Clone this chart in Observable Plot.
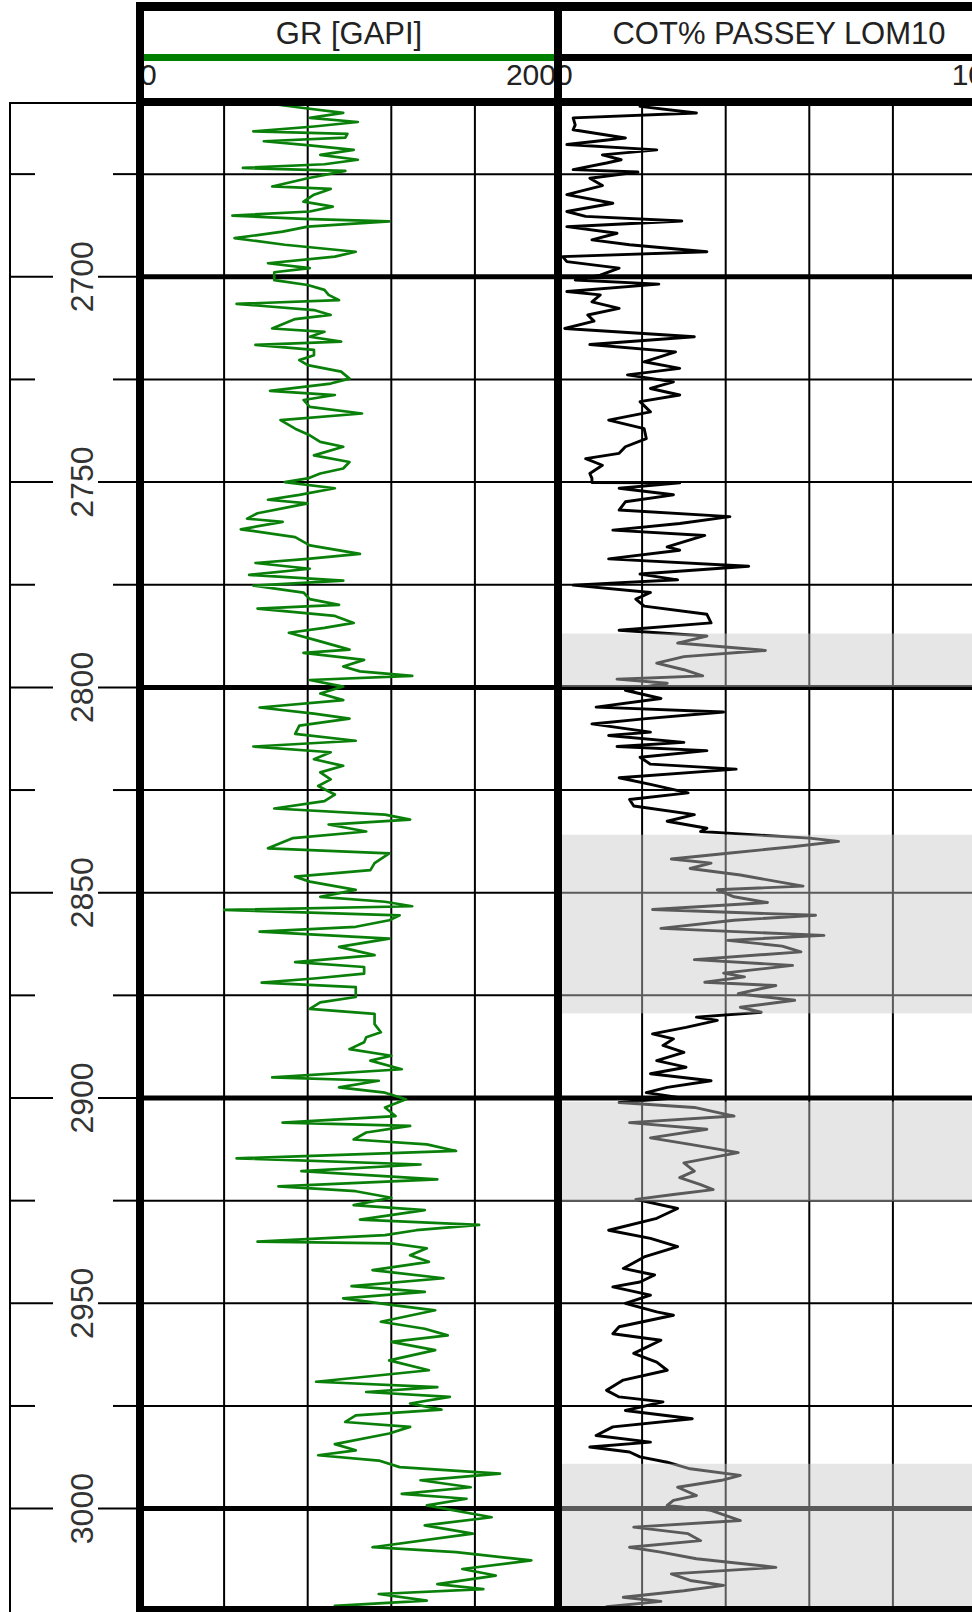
<!DOCTYPE html>
<html><head><meta charset="utf-8">
<script src="https://cdn.jsdelivr.net/npm/d3@7"></script>
<script src="https://cdn.jsdelivr.net/npm/@observablehq/plot@0.6"></script>
<style>
body{margin:0;background:#fff;}
#page{position:relative;width:972px;height:1612px;overflow:hidden;font-family:"Liberation Sans",Arial,sans-serif;color:#222;background:#fff;}
.plot{position:absolute;}
.bar{position:absolute;}
.lbl{position:absolute;line-height:1;white-space:nowrap;}
</style></head>
<body><div id="page"></div>
<script>
// ---------------- data ----------------
const depthDomain = [2657.8, 3025.3];
const depthLabels = [2700, 2750, 2800, 2850, 2900, 2950, 3000];
const depthMinorTicks = [2675, 2725, 2775, 2825, 2875, 2925, 2975];
const depthMajorGrid = [2700, 2800, 2900, 3000];
const depthMinorGrid = [2675, 2725, 2750, 2775, 2825, 2850, 2875, 2925, 2950, 2975];

const grTitle = "GR [GAPI]";
const grTicks = [0, 40, 80, 120, 160, 200];
const cotTitle = "COT% PASSEY LOM10";
const cotTicks = [0, 2, 4, 6, 8, 10];

const grDepth = [2658.1,2658.9,2660.1,2661.3,2662.3,2663.4,2664.6,2665.2,2666.1,2667.0,2668.0,2669.1,2670.3,2671.5,2672.6,2673.5,2674.2,2676.0,2678.0,2678.6,2680.0,2681.7,2682.9,2684.1,2685.1,2685.9,2686.5,2687.8,2689.0,2690.6,2692.2,2693.9,2695.1,2696.7,2697.9,2698.9,2700.8,2702.0,2703.2,2704.4,2705.7,2706.6,2708.1,2709.3,2710.3,2712.6,2713.4,2714.6,2715.8,2716.6,2717.8,2719.1,2720.3,2721.5,2723.1,2724.8,2726.0,2727.8,2728.8,2730.0,2731.7,2733.3,2734.9,2737.0,2738.6,2740.2,2741.4,2743.5,2745.1,2746.7,2747.9,2749.1,2750.0,2751.5,2753.1,2754.3,2755.2,2757.6,2758.9,2759.7,2761.5,2763.4,2765.4,2767.5,2768.7,2769.7,2771.1,2772.6,2774.0,2775.2,2776.9,2778.5,2779.9,2780.8,2782.6,2784.3,2785.5,2786.7,2788.8,2790.8,2791.6,2793.3,2794.9,2796.1,2797.2,2798.2,2799.8,2801.5,2803.1,2804.9,2806.4,2807.6,2809.3,2811.3,2813.0,2814.4,2815.8,2817.5,2819.1,2820.7,2822.4,2824.0,2826.1,2827.7,2829.5,2831.0,2832.2,2833.4,2835.1,2836.7,2839.2,2840.4,2842.8,2844.5,2846.1,2847.3,2849.3,2851.0,2852.2,2853.3,2854.2,2855.5,2856.7,2858.3,2859.5,2861.2,2863.2,2865.2,2866.9,2868.1,2869.7,2870.9,2871.9,2873.0,2875.4,2876.7,2878.3,2879.5,2882.0,2884.0,2885.2,2886.4,2888.1,2889.7,2890.9,2893.0,2895.0,2895.8,2897.4,2898.7,2900.3,2902.3,2904.4,2906.0,2906.8,2908.4,2910.1,2911.3,2912.9,2914.7,2916.2,2917.8,2919.8,2921.5,2922.7,2924.3,2926.1,2927.3,2929.6,2930.9,2932.2,2933.4,2935.0,2935.4,2936.6,2938.3,2939.9,2941.9,2943.9,2945.8,2947.2,2948.8,2950.4,2951.7,2954.5,2956.2,2957.8,2959.4,2961.4,2963.9,2966.3,2969.1,2970.4,2971.6,2972.8,2974.4,2975.9,2977.3,2978.9,2980.1,2981.7,2984.3,2985.8,2987.0,2988.3,2989.9,2991.5,2993.1,2994.8,2996.4,2997.6,2999.2,3002.1,3004.1,3006.1,3009.4,3010.6,3012.6,3014.7,3016.3,3018.4,3019.6,3020.8,3022.4,3023.7,3024.4];
const grValue = [66,78,97,81,104,83,54,99,98,59,81,102,86,104,88,49,98,80,63,91,83,78,92,81,44,78,119,80,68,45,69,103,93,61,81,64,64,80,88,90,95,46,83,91,74,63,88,81,96,55,83,83,76,80,96,100,91,62,93,78,81,106,67,74,81,86,97,83,100,97,86,80,69,93,76,61,80,56,51,68,48,74,81,105,80,55,81,52,97,54,78,81,95,56,93,102,88,71,86,100,78,107,97,105,130,81,97,86,97,57,83,100,76,74,103,54,91,83,97,86,91,85,93,88,64,117,129,90,108,73,61,119,112,110,74,81,103,86,117,130,40,124,119,103,57,119,95,112,74,107,107,83,58,103,103,86,81,112,112,115,108,107,100,120,110,125,63,114,95,117,127,117,122,68,129,108,102,137,151,46,134,77,142,66,103,120,102,136,105,162,132,117,56,120,137,129,138,111,145,101,136,97,120,141,115,136,147,120,141,119,138,84,142,108,148,129,144,103,98,129,119,93,103,85,114,124,172,134,158,125,156,137,168,136,159,111,151,187,154,170,142,164,114,137,93,120];

const cotDepth = [2658.5,2660.1,2661.3,2663.0,2664.2,2666.2,2667.8,2669.1,2670.3,2671.5,2672.3,2673.9,2674.5,2676.0,2677.8,2680.0,2682.1,2684.1,2685.3,2686.4,2687.8,2689.4,2691.0,2692.2,2693.9,2695.1,2696.3,2697.9,2699.6,2700.8,2701.8,2703.6,2704.4,2706.1,2707.7,2709.3,2710.8,2712.6,2714.6,2716.5,2718.3,2720.7,2722.3,2723.9,2725.6,2727.2,2728.8,2730.4,2732.9,2734.9,2737.0,2739.4,2741.4,2743.0,2744.3,2745.9,2747.9,2749.1,2750.1,2750.2,2751.5,2753.1,2754.8,2756.8,2758.4,2760.1,2761.7,2763.0,2765.8,2766.6,2768.7,2770.5,2772.4,2773.8,2775.1,2776.9,2778.5,2780.2,2782.2,2784.3,2786.1,2787.5,2789.2,2791.0,2792.5,2794.1,2795.7,2797.2,2798.0,2799.0,2800.7,2802.7,2804.8,2806.0,2807.6,2808.9,2810.9,2811.7,2813.4,2814.4,2815.4,2817.0,2818.7,2819.9,2822.0,2823.6,2825.7,2827.3,2828.9,2831.0,2832.6,2834.3,2835.1,2835.5,2836.7,2837.5,2838.8,2840.4,2841.8,2842.8,2844.1,2845.7,2848.4,2849.3,2851.0,2852.4,2854.1,2855.5,2856.7,2858.7,2860.4,2861.6,2863.0,2864.4,2866.3,2867.7,2869.6,2870.5,2871.8,2872.6,2874.6,2876.2,2877.9,2879.1,2880.3,2881.1,2882.8,2884.4,2885.6,2887.2,2888.9,2890.9,2892.5,2894.1,2895.8,2897.4,2898.7,2899.9,2901.1,2902.3,2904.4,2906.0,2907.6,2909.7,2911.3,2913.3,2915.8,2917.8,2919.4,2921.1,2922.3,2923.5,2924.7,2926.9,2929.3,2932.2,2934.2,2936.2,2938.7,2941.5,2943.1,2944.8,2946.0,2948.0,2950.0,2952.1,2952.9,2955.7,2957.4,2959.0,2962.2,2964.3,2966.3,2968.7,2971.2,2972.8,2974.0,2976.1,2978.1,2980.1,2982.2,2983.8,2985.0,2986.2,2987.4,2988.7,2990.3,2991.9,2993.1,2994.8,2996.8,2998.0,2999.2,3000.4,3002.9,3004.5,3006.1,3007.8,3009.4,3010.6,3012.2,3014.3,3015.9,3017.5,3018.7,3020.0,3021.6,3022.6,3023.9];
const cotValue = [1.95,3.3,0.35,0.4,0.35,1.6,0.2,2.35,1.05,1.5,1.15,0.35,1.9,0.75,1.05,0.2,1.3,0.2,0.65,2.95,0.2,1.4,0.8,1.7,3.55,0.1,0.2,1.45,1.0,0.4,2.4,0.2,1.0,0.8,1.45,0.7,0.85,0.15,3.25,0.75,2.8,2.05,2.9,1.65,2.75,2.2,2.9,1.95,2.2,1.2,2.05,2.1,1.6,1.45,0.65,1.05,0.75,0.8,0.8,2.9,1.45,2.75,1.6,1.45,4.1,2.9,1.3,3.5,2.6,2.9,1.2,4.55,1.95,2.85,0.35,2.2,1.85,2.05,3.55,3.65,1.45,3.55,2.85,4.95,3.0,2.35,3.0,3.45,1.4,2.6,1.6,2.45,0.9,3.95,2.1,0.8,2.2,1.2,3.0,1.4,3.55,1.95,2.2,4.25,1.45,2.2,3.1,1.7,1.8,3.25,2.6,3.55,3.4,4.05,6.0,6.7,5.6,4.05,2.7,3.65,3.15,4.35,5.85,3.8,4.2,5.0,2.25,6.15,4.2,2.45,6.35,4.05,5.35,5.8,3.25,5.6,3.95,4.45,3.5,5.2,4.3,5.65,4.35,4.85,3.3,3.8,3.05,2.25,2.75,2.5,3.0,2.35,3.05,2.2,3.65,2.6,2.1,2.9,1.45,3.25,4.2,1.7,3.55,2.2,3.15,4.3,3.0,3.25,2.9,3.4,3.7,2.75,1.85,2.85,2.35,1.2,2.2,2.85,2.05,1.55,2.3,1.95,1.3,2.2,1.6,2.35,2.75,1.45,1.3,2.45,1.8,2.35,2.6,1.55,1.15,1.45,2.5,1.6,3.2,1.3,0.9,2.2,0.75,1.7,1.95,2.6,3.15,4.35,3.9,2.85,3.3,2.75,2.6,3.65,4.35,1.8,3.1,3.4,1.7,2.45,3.3,5.2,2.7,3.15,3.95,3.0,1.55,2.45,1.15];

const zoneTop = [2787, 2836, 2901, 2989.2];
const zoneBottom = [2800, 2879.5, 2925.3, 3030];

// ---------------- build ----------------
const page = document.getElementById("page");
const PLOT_TOP = 103, PLOT_H = 1509;

function place(el, left, top) {
  el.classList.add("plot");
  el.style.left = left + "px";
  el.style.top = top + "px";
  page.appendChild(el);
}
function bar(left, top, w, h, color) {
  const d = document.createElement("div");
  d.className = "bar";
  Object.assign(d.style, {left: left + "px", top: top + "px", width: w + "px", height: h + "px", background: color});
  page.appendChild(d);
}
function label(text, opts) {
  const d = document.createElement("div");
  d.className = "lbl";
  d.textContent = text;
  Object.assign(d.style, opts);
  page.appendChild(d);
  return d;
}

const grRows = grDepth.map((d, i) => ({depth: d, value: grValue[i]}));
const cotRows = cotDepth.map((d, i) => ({depth: d, value: cotValue[i]}));
const zones = zoneTop.map((t, i) => ({top: t, bottom: zoneBottom[i]}));

function track(domain, ticks, curveMarks, overlay) {
  const inner = ticks.slice(1, -1);
  return Plot.plot({
    width: 418, height: PLOT_H,
    marginTop: 0, marginBottom: 0, marginLeft: 0, marginRight: 0,
    x: {domain, axis: null},
    y: {domain: depthDomain, reverse: true, axis: null},
    style: {background: "transparent", overflow: "visible"},
    marks: [
      Plot.ruleX(inner, {stroke: "#000", strokeWidth: 2}),
      Plot.ruleY(depthMinorGrid, {stroke: "#000", strokeWidth: 2}),
      Plot.ruleY(depthMajorGrid, {stroke: "#000", strokeWidth: 5}),
      ...curveMarks,
      ...overlay
    ]
  });
}

// depth track
const depthPlot = Plot.plot({
  width: 131, height: PLOT_H,
  marginTop: 0, marginBottom: 0, marginLeft: 0, marginRight: 0,
  x: {domain: [0, 131], range: [0, 131], axis: null},
  y: {domain: depthDomain, reverse: true, axis: null},
  style: {background: "transparent", overflow: "visible"},
  marks: [
    Plot.ruleY(depthMinorTicks, {x1: () => 0, x2: () => 26, stroke: "#000", strokeWidth: 2}),
    Plot.ruleY(depthMinorTicks, {x1: () => 104, x2: () => 131, stroke: "#000", strokeWidth: 2}),
    Plot.ruleY(depthLabels, {x1: () => 0, x2: () => 44, stroke: "#000", strokeWidth: 2}),
    Plot.ruleY(depthLabels, {x1: () => 89, x2: () => 131, stroke: "#000", strokeWidth: 2}),
    Plot.text(depthLabels, {x: () => 73, y: d => d, text: d => String(d), rotate: -90, fontSize: 32, fill: "#333", fontFamily: "Liberation Sans, Arial, sans-serif"})
  ]
});
place(depthPlot, 9, PLOT_TOP);

const grPlot = track([grTicks[0], grTicks[grTicks.length - 1]], grTicks, [
  Plot.line(grRows, {x: "value", y: "depth", stroke: "#0a800a", strokeWidth: 2.7, strokeLinejoin: "round", curve: "linear"})
], []);
place(grPlot, 140, PLOT_TOP);

const cotPlot = track([cotTicks[0], cotTicks[cotTicks.length - 1]], cotTicks, [
  Plot.line(cotRows, {x: "value", y: "depth", stroke: "#000", strokeWidth: 2.9, strokeLinejoin: "round", curve: "linear"})
], [
  Plot.rect(zones, {x1: () => 0, x2: () => 10, y1: "top", y2: "bottom", fill: "#c8c8c8", fillOpacity: 0.45})
]);
place(cotPlot, 558, PLOT_TOP);

// frame & header
bar(9, 102, 131, 2, "#000");       // depth track top
bar(9, 102, 2, 1510, "#000");      // depth track left
bar(136, 2, 840, 9, "#000");       // top border
bar(136, 98, 840, 8, "#000");      // header bottom
bar(136, 1606, 840, 6, "#000");    // bottom border
bar(144, 54, 410, 7, "#008000");   // GR scale line
bar(562, 54, 420, 7, "#000");      // COT scale line

label(grTitle, {left: "349px", top: "18px", fontSize: "31px", transform: "translateX(-50%)"});
label(cotTitle, {left: "779px", top: "18px", fontSize: "31px", transform: "translateX(-50%)"});
label(String(grTicks[0]), {left: "140px", top: "60px", fontSize: "30px"});
label(String(grTicks[grTicks.length - 1]), {left: "556px", top: "60px", fontSize: "30px", transform: "translateX(-100%)"});
label(String(cotTicks[0]), {left: "556px", top: "60px", fontSize: "30px"});
label(String(cotTicks[cotTicks.length - 1]), {left: "985px", top: "60px", fontSize: "30px", transform: "translateX(-100%)"});

bar(136, 2, 8, 1610, "#000");      // left thick border
bar(554, 2, 8, 1610, "#000");      // track divider
</script>
</body></html>
